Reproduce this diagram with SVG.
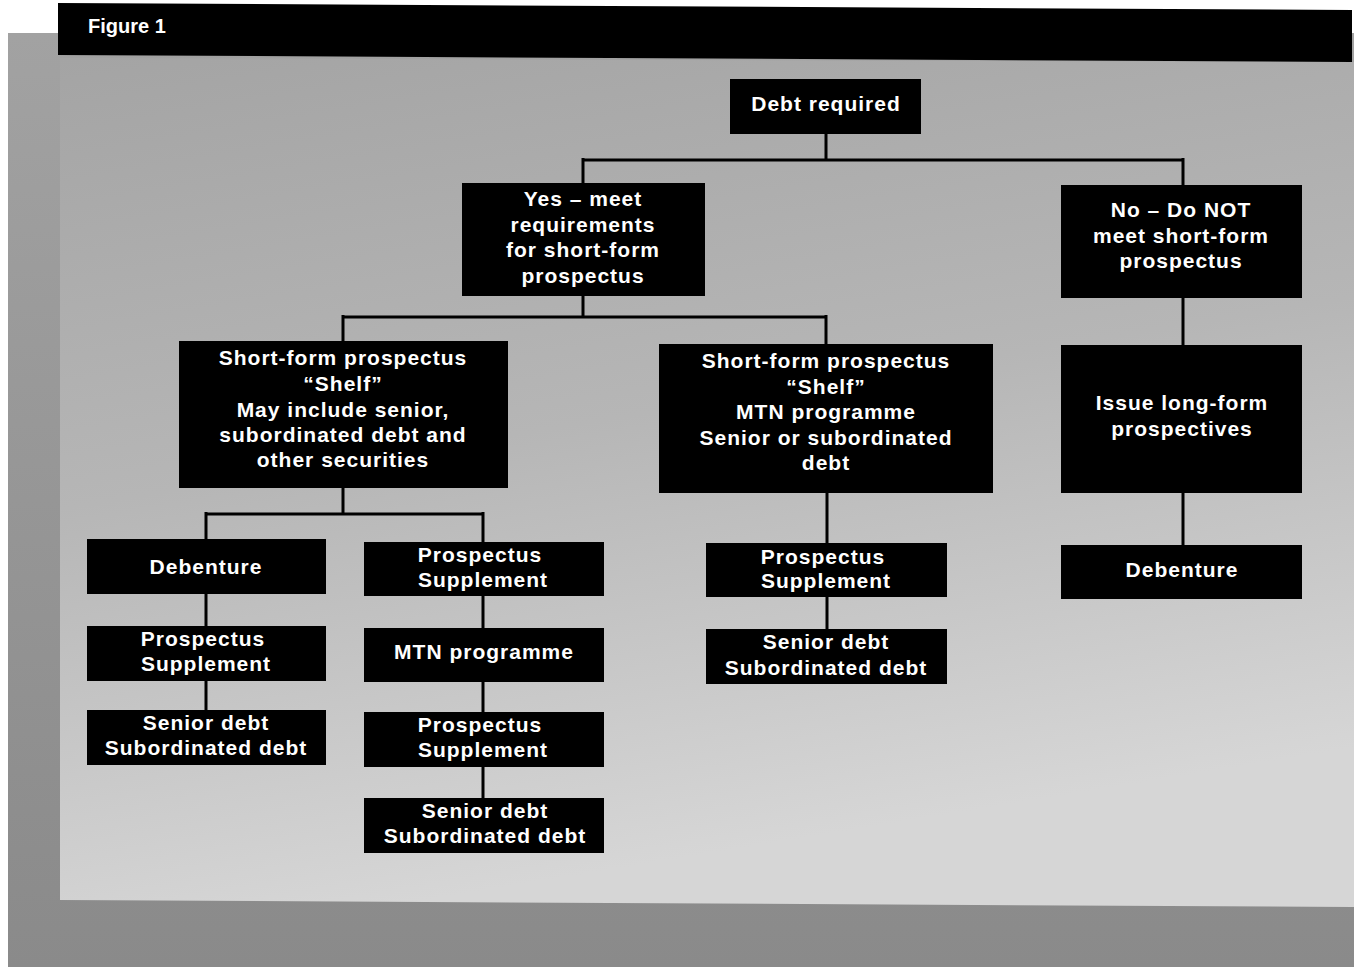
<svg xmlns="http://www.w3.org/2000/svg" width="1354" height="970" viewBox="0 0 1354 970">
<defs>
<linearGradient id="panel" x1="0" y1="0" x2="0.25" y2="1">
<stop offset="0" stop-color="#a4a4a4"/>
<stop offset="0.5" stop-color="#b6b6b6"/>
<stop offset="1" stop-color="#d6d6d6"/>
</linearGradient>
<linearGradient id="frame" x1="0" y1="0" x2="0" y2="1">
<stop offset="0" stop-color="#a2a2a2"/>
<stop offset="1" stop-color="#8a8a8a"/>
</linearGradient>
<style>
.box{fill:#000}
.t{fill:#fff;font-family:"Liberation Sans",Arial,sans-serif;font-weight:bold;font-size:21px;letter-spacing:1px;text-anchor:middle}
.c{fill:none;stroke:#000;stroke-width:3}
</style>
</defs>
<rect x="0" y="0" width="1354" height="970" fill="#fff"/>
<rect x="8" y="33" width="1346" height="934" fill="url(#frame)"/>
<polygon points="60,58 1354,62 1354,907 60,900" fill="url(#panel)"/>
<polygon points="58,3 1352,10 1352,62 58,55" fill="#000"/>
<text x="88" y="33" style="fill:#fff;font-family:'Liberation Sans',Arial,sans-serif;font-weight:bold;font-size:20px">Figure 1</text>

<g id="connectors" class="c">
<path d="M826,134 V160 M583,160 H1183 M583,158 V183 M1183,158 V186"/>
<path d="M583,296 V317 M343,317 H826 M343,315 V341 M826,315 V344"/>
<path d="M1183,298 V346 M1183,493 V546"/>
<path d="M343,488 V514 M206,514 H483 M206,512 V540 M483,512 V542"/>
<path d="M206,594 V626 M206,681 V710"/>
<path d="M483,596 V628 M483,682 V712 M483,767 V798"/>
<path d="M827,493 V543 M827,597 V629"/>
</g>

<g id="n-debt"><rect class="box" x="730" y="79" width="191" height="55"/><text class="t" x="826" y="111">Debt required</text></g>
<g id="n-yes"><rect class="box" x="462" y="183" width="243" height="113"/><text class="t" x="583"><tspan x="583" y="206">Yes – meet</tspan><tspan x="583" y="231.5">requirements</tspan><tspan x="583" y="257">for short-form</tspan><tspan x="583" y="282.5">prospectus</tspan></text></g>
<g id="n-no"><rect class="box" x="1061" y="185" width="241" height="113"/><text class="t" x="1181"><tspan x="1181" y="217">No – Do NOT</tspan><tspan x="1181" y="243">meet short-form</tspan><tspan x="1181" y="268">prospectus</tspan></text></g>
<g id="n-shelf1"><rect class="box" x="179" y="341" width="329" height="147"/><text class="t" x="343"><tspan x="343" y="365">Short-form prospectus</tspan><tspan x="343" y="391">“Shelf”</tspan><tspan x="343" y="416.5">May include senior,</tspan><tspan x="343" y="442">subordinated debt and</tspan><tspan x="343" y="467">other securities</tspan></text></g>
<g id="n-shelf2"><rect class="box" x="659" y="344" width="334" height="149"/><text class="t" x="826"><tspan x="826" y="368">Short-form prospectus</tspan><tspan x="826" y="393.5">“Shelf”</tspan><tspan x="826" y="419">MTN programme</tspan><tspan x="826" y="444.5">Senior or subordinated</tspan><tspan x="826" y="470">debt</tspan></text></g>
<g id="n-longform"><rect class="box" x="1061" y="345" width="241" height="148"/><text class="t" x="1182"><tspan x="1182" y="410">Issue long-form</tspan><tspan x="1182" y="435.5">prospectives</tspan></text></g>
<g id="n-deb-r"><rect class="box" x="1061" y="545" width="241" height="54"/><text class="t" x="1182" y="577">Debenture</text></g>
<g id="n-deb-l"><rect class="box" x="87" y="539" width="239" height="55"/><text class="t" x="206" y="574">Debenture</text></g>
<g id="n-ps1"><rect class="box" x="87" y="626" width="239" height="55"/><text class="t" x="206"><tspan x="203" y="646">Prospectus</tspan><tspan x="206" y="671">Supplement</tspan></text></g>
<g id="n-sd1"><rect class="box" x="87" y="710" width="239" height="55"/><text class="t" x="206"><tspan x="206" y="730">Senior debt</tspan><tspan x="206" y="755">Subordinated debt</tspan></text></g>
<g id="n-ps2"><rect class="box" x="364" y="542" width="240" height="54"/><text class="t" x="483"><tspan x="480" y="562">Prospectus</tspan><tspan x="483" y="587">Supplement</tspan></text></g>
<g id="n-mtn"><rect class="box" x="364" y="628" width="240" height="54"/><text class="t" x="484" y="659">MTN programme</text></g>
<g id="n-ps3"><rect class="box" x="364" y="712" width="240" height="55"/><text class="t" x="483"><tspan x="480" y="732">Prospectus</tspan><tspan x="483" y="757">Supplement</tspan></text></g>
<g id="n-sd2"><rect class="box" x="364" y="798" width="240" height="55"/><text class="t" x="485"><tspan x="485" y="818">Senior debt</tspan><tspan x="485" y="843">Subordinated debt</tspan></text></g>
<g id="n-ps4"><rect class="box" x="706" y="543" width="241" height="54"/><text class="t" x="826"><tspan x="823" y="564">Prospectus</tspan><tspan x="826" y="588">Supplement</tspan></text></g>
<g id="n-sd3"><rect class="box" x="706" y="629" width="241" height="55"/><text class="t" x="826"><tspan x="826" y="649">Senior debt</tspan><tspan x="826" y="675">Subordinated debt</tspan></text></g>
</svg>
